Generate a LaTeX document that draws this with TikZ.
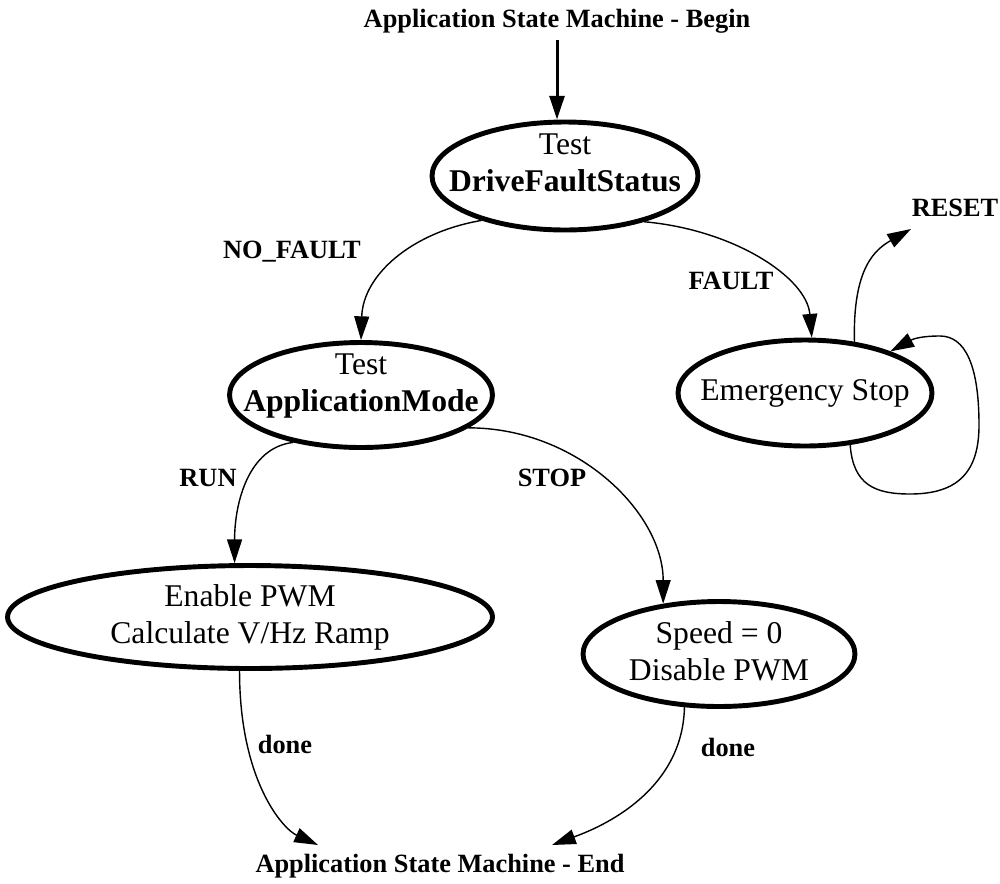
\documentclass[tikz,border=0pt]{standalone}
\usepackage{fontspec}
\setmainfont{Liberation Serif}
\usetikzlibrary{shapes.geometric,arrows.meta}
\begin{document}
\begin{tikzpicture}[x=0.02cm,y=-0.02cm,
  st/.style={ellipse, draw, line width=2.8pt, inner sep=0pt},
  nt/.style={align=center, font=\fontsize{18}{21}\selectfont, inner sep=0pt},
  lb/.style={font=\fontsize{15}{18}\selectfont\bfseries, inner sep=0pt},
  conn/.style={line width=0.8pt, -{Triangle[length=13.5pt,width=8.5pt]}}
]
\useasboundingbox (0,0) rectangle (1000,883);

% titles
\node[lb] (begin) at (557,21) {Application State Machine - Begin};
\node[lb] (end) at (440,866) {Application State Machine - End};

% states
\node[st, minimum width=5.32cm, minimum height=2.16cm] (e1) at (565,176) {};
\node[nt] (e1t) at (565,163) {Test\\\textbf{DriveFaultStatus}};
\node[st, minimum width=5.26cm, minimum height=2.1cm] (e2) at (361,395) {};
\node[nt] (e2t) at (361,386) {Test\\\textbf{ApplicationMode}};
\node[st, minimum width=5.08cm, minimum height=2.12cm] (e3) at (805,393) {};
\node[nt] (e3t) at (805,393) {Emergency Stop};
\node[st, minimum width=9.7cm, minimum height=2.06cm] (e4) at (250,617) {};
\node[nt] (e4t) at (250,617) {Enable PWM\\Calculate V/Hz Ramp};
\node[st, minimum width=5.44cm, minimum height=2.1cm] (e5) at (719,654) {};
\node[nt] (e5t) at (719,651) {Speed = 0\\Disable PWM};

% labels
\node[lb] (lnf) at (292,252) {NO\_FAULT};
\node[lb] (lf) at (731,281) {FAULT};
\node[lb] (lreset) at (955,208) {RESET};
\node[lb] (lrun) at (208,478) {RUN};
\node[lb] (lstop) at (552,478) {STOP};
\node[lb] (ld1) at (285,744) {done};
\node[lb] (ld2) at (728,747) {done};

% free ends
\coordinate (rtip) at (911,229);
\coordinate (d1tip) at (318,845);
\coordinate (d2tip) at (552,845);

% connectors
\draw[conn, line width=1.7pt] ([yshift=-4pt]begin.south) -- (begin.south |- e1.north);
\draw[conn] (e1.208) .. controls +(-70,12) and +(2,-65) .. (e2.north);
\draw[conn] (e1.-30) .. controls +(90,8) and +(-5,-60) .. (e3.83);
\draw[conn] (e3.46) .. controls +(-2,-75) and +(-35,20) .. (rtip);
\draw[conn] (e3.-49) .. controls +(3,40) and +(-35,0) .. (910,494)
   .. controls +(50,0) and +(0,45) .. (979,425)
   .. controls +(0,-60) and +(25,0) .. (940,336)
   .. controls +(-20,0) and +(22,-12) .. (e3.26);
\draw[conn] (e2.215) .. controls +(-45,5) and +(0,-60) .. (e4.106);
\draw[conn] (e2.-17) .. controls +(110,0) and +(0,-90) .. (e5.138);
\draw[conn] (e4.-101) .. controls +(0,110) and +(-35,-16) .. (d1tip);
\draw[conn] (e5.-123) .. controls +(-2,90) and +(38,-14) .. (d2tip);
\end{tikzpicture}
\end{document}
